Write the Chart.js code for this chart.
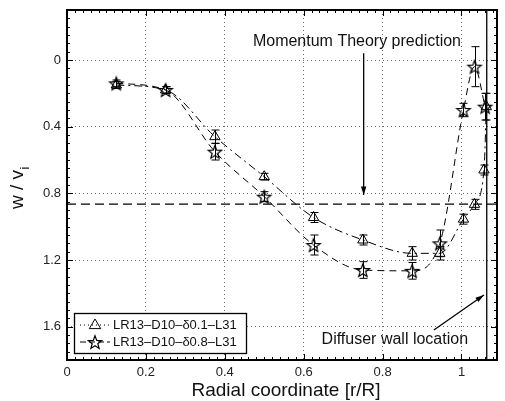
<!DOCTYPE html>
<html>
<head>
<meta charset="utf-8">
<script src="https://cdn.jsdelivr.net/npm/chart.js@4.4.0/dist/chart.umd.min.js"></script>
<style>
  html, body { margin: 0; padding: 0; background: #fff; }
  #wrap { width: 505px; height: 401px; }
</style>
</head>
<body>
<div id="wrap"><canvas id="chart"></canvas></div>
<script>
// series names
const seriesNames = ["LR13\u2013D10\u2013\u03b40.1\u2013L31", "LR13\u2013D10\u2013\u03b40.8\u2013L31"];

// triangle series (delta 0.1)
const triX   = [0.125, 0.25, 0.375, 0.5, 0.625, 0.75, 0.875, 0.945, 1.005, 1.033, 1.057, 1.063];
const triY   = [0.15, 0.18, 0.46, 0.70, 0.945, 1.08, 1.16, 1.16, 0.955, 0.866, 0.66, 0.28];
const triErr = [0.02, 0.02, 0.04, 0.02, 0.03, 0.03, 0.04, 0.04, 0.03, 0.03, 0.03, 0.08];

// star series (delta 0.8)
const starX   = [0.125, 0.25, 0.375, 0.5, 0.625, 0.75, 0.875, 0.945, 1.005, 1.033, 1.06];
const starY   = [0.14, 0.18, 0.55, 0.82, 1.11, 1.26, 1.265, 1.10, 0.30, 0.04, 0.28];
const starErr = [0.02, 0.02, 0.05, 0.03, 0.06, 0.05, 0.05, 0.08, 0.04, 0.12, 0.08];

// reference lines
const momentumValue = 0.865;
const wallX = 1.064;

// axes
const xMin = 0, xMax = 1.09;
const yMin = -0.3, yMax = 1.8;
const xTicks = [0, 0.2, 0.4, 0.6, 0.8, 1];
const xTickLabels = ["0", "0.2", "0.4", "0.6", "0.8", "1"];
const yTicks = [0, 0.4, 0.8, 1.2, 1.6];
const yTickLabels = ["0", "0.4", "0.8", "1.2", "1.6"];

const FONT = "'Liberation Sans', Arial, Helvetica, sans-serif";

function makeStar(r) {
  const c = document.createElement("canvas");
  const size = Math.ceil(r * 2 + 4);
  c.width = c.height = size;
  const g = c.getContext("2d");
  g.strokeStyle = "#000";
  g.lineWidth = 1.2;
  g.beginPath();
  for (let i = 0; i < 10; i++) {
    const a = -Math.PI / 2 + i * Math.PI / 5;
    const rr = i % 2 ? r * 0.42 : r;
    const px = size / 2 + rr * Math.cos(a), py = size / 2 + 0.8 + rr * Math.sin(a);
    if (i) g.lineTo(px, py); else g.moveTo(px, py);
  }
  g.closePath();
  g.stroke();
  return c;
}
const starImg = makeStar(7);

function drawTriangle(ctx, x, y, r) {
  ctx.beginPath();
  ctx.moveTo(x, y - r);
  ctx.lineTo(x + r * 0.95, y + r * 0.6);
  ctx.lineTo(x - r * 0.95, y + r * 0.6);
  ctx.closePath();
  ctx.stroke();
}

const toPts = (xs, ys) => xs.map((x, i) => ({ x: x, y: ys[i] }));

const decorPlugin = {
  id: "decor",
  afterDatasetsDraw(chart) {
    const ctx = chart.ctx, xs = chart.scales.x, ys = chart.scales.y;
    ctx.save();
    ctx.strokeStyle = "#000";
    ctx.lineWidth = 1;
    const bars = (X, Y, E) => {
      X.forEach((x, i) => {
        const px = Math.round(xs.getPixelForValue(x)) + 0.5;
        const p1 = ys.getPixelForValue(Y[i] - E[i]);
        const p2 = ys.getPixelForValue(Y[i] + E[i]);
        ctx.beginPath();
        ctx.moveTo(px, p1); ctx.lineTo(px, p2);
        ctx.moveTo(px - 4, p1); ctx.lineTo(px + 4, p1);
        ctx.moveTo(px - 4, p2); ctx.lineTo(px + 4, p2);
        ctx.stroke();
      });
    };
    bars(triX, triY, triErr);
    bars(starX, starY, starErr);
    ctx.restore();
  },
  afterDraw(chart) {
    const ctx = chart.ctx, a = chart.chartArea;
    const xs = chart.scales.x, ys = chart.scales.y;
    ctx.save();
    ctx.strokeStyle = "#000";
    ctx.lineWidth = 1;
    // minor ticks
    ctx.beginPath();
    for (let v = 0.02; v < xMax; v += 0.02) {
      const px = Math.round(xs.getPixelForValue(v)) + 0.5;
      ctx.moveTo(px, a.bottom); ctx.lineTo(px, a.bottom - 3);
      ctx.moveTo(px, a.top); ctx.lineTo(px, a.top + 3);
    }
    for (let v = -0.25; v < yMax; v += 0.05) {
      const py = Math.round(ys.getPixelForValue(v)) + 0.5;
      ctx.moveTo(a.left, py); ctx.lineTo(a.left + 3, py);
      ctx.moveTo(a.right, py); ctx.lineTo(a.right - 3, py);
    }
    ctx.stroke();
    // major ticks
    ctx.beginPath();
    xTicks.forEach(v => {
      const px = Math.round(xs.getPixelForValue(v)) + 0.5;
      ctx.moveTo(px, a.bottom); ctx.lineTo(px, a.bottom - 6);
      ctx.moveTo(px, a.top); ctx.lineTo(px, a.top + 6);
    });
    yTicks.forEach(v => {
      const py = Math.round(ys.getPixelForValue(v)) + 0.5;
      ctx.moveTo(a.left, py); ctx.lineTo(a.left + 6, py);
      ctx.moveTo(a.right, py); ctx.lineTo(a.right - 6, py);
    });
    ctx.stroke();
    // box
    ctx.lineWidth = 2;
    ctx.strokeRect(a.left, a.top, a.right - a.left, a.bottom - a.top);

    // tick labels
    ctx.fillStyle = "#222";
    ctx.font = "13px " + FONT;
    ctx.textAlign = "center";
    ctx.textBaseline = "middle";
    xTicks.forEach((v, i) => ctx.fillText(xTickLabels[i], xs.getPixelForValue(v), a.bottom + 12));
    ctx.textAlign = "right";
    yTicks.forEach((v, i) => ctx.fillText(yTickLabels[i], a.left - 6, ys.getPixelForValue(v)));

    // axis titles
    ctx.font = "19px " + FONT;
    ctx.textAlign = "center";
    ctx.fillStyle = "#111";
    ctx.fillText("Radial coordinate [r/R]", 286, 391);
    ctx.save();
    ctx.translate(18, 188);
    ctx.rotate(-Math.PI / 2);
    const main = "w / v";
    const wMain = ctx.measureText(main).width;
    ctx.font = "13px " + FONT;
    const wSub = ctx.measureText("i").width;
    const x0 = -(wMain + wSub) / 2;
    ctx.font = "19px " + FONT;
    ctx.textAlign = "left";
    ctx.fillText(main, x0, 0);
    ctx.font = "13px " + FONT;
    ctx.fillText("i", x0 + wMain + 0.5, 7);
    ctx.restore();

    // annotations
    ctx.font = "16px " + FONT;
    ctx.textAlign = "center";
    ctx.fillStyle = "#111";
    ctx.fillText("Momentum Theory prediction", xs.getPixelForValue(0.735), ys.getPixelForValue(-0.11));
    ctx.fillText("Diffuser wall location", xs.getPixelForValue(0.831), ys.getPixelForValue(1.68));
    const arrow = (x1, y1, x2, y2) => {
      const p1x = xs.getPixelForValue(x1), p1y = ys.getPixelForValue(y1);
      const p2x = xs.getPixelForValue(x2), p2y = ys.getPixelForValue(y2);
      const ang = Math.atan2(p2y - p1y, p2x - p1x);
      ctx.lineWidth = 1.3;
      ctx.beginPath();
      ctx.moveTo(p1x, p1y); ctx.lineTo(p2x, p2y);
      ctx.stroke();
      ctx.beginPath();
      ctx.moveTo(p2x, p2y);
      ctx.lineTo(p2x - 9 * Math.cos(ang - 0.3), p2y - 9 * Math.sin(ang - 0.3));
      ctx.lineTo(p2x - 9 * Math.cos(ang + 0.3), p2y - 9 * Math.sin(ang + 0.3));
      ctx.closePath();
      ctx.fillStyle = "#000";
      ctx.fill();
    };
    arrow(0.752, -0.04, 0.752, 0.81);
    arrow(0.93, 1.62, 1.057, 1.41);

    // legend
    const lx = 74, ly = 313, lw = 172, lh = 40;
    ctx.fillStyle = "#fff";
    ctx.fillRect(lx, ly, lw, lh);
    ctx.lineWidth = 1.3;
    ctx.strokeStyle = "#000";
    ctx.strokeRect(lx + 0.5, ly + 0.5, lw, lh);
    ctx.lineWidth = 1;
    ctx.font = "13px " + FONT;
    ctx.textAlign = "left";
    ctx.fillStyle = "#111";
    const rows = [ly + 12, ly + 29];
    // row 1: dash-dot + triangle
    ctx.setLineDash([1, 3]);
    ctx.beginPath(); ctx.moveTo(lx + 6, rows[0]); ctx.lineTo(lx + 36, rows[0]); ctx.stroke();
    ctx.setLineDash([]);
    drawTriangle(ctx, lx + 21, rows[0], 6);
    ctx.fillText(seriesNames[0], lx + 39, rows[0]);
    // row 2: dashed + star
    ctx.setLineDash([6, 3]);
    ctx.beginPath(); ctx.moveTo(lx + 6, rows[1]); ctx.lineTo(lx + 36, rows[1]); ctx.stroke();
    ctx.setLineDash([]);
    ctx.drawImage(starImg, Math.round(lx + 21 - starImg.width / 2), Math.round(rows[1] - starImg.height / 2));
    ctx.fillText(seriesNames[1], lx + 39, rows[1]);
    ctx.restore();
  }
};

new Chart(document.getElementById("chart"), {
  type: "scatter",
  data: {
    datasets: [
      {
        data: [{ x: xMin, y: momentumValue }, { x: xMax, y: momentumValue }],
        showLine: true, borderColor: "#000", borderWidth: 1.3,
        borderDash: [9, 5], pointRadius: 0
      },
      {
        data: [{ x: wallX, y: yMin }, { x: wallX, y: yMax }],
        showLine: true, borderColor: "#000", borderWidth: 1.3, pointRadius: 0
      },
      {
        label: seriesNames[0],
        data: toPts(triX, triY),
        showLine: true, borderColor: "#000", borderWidth: 1,
        borderDash: [8, 4, 2, 4],
        cubicInterpolationMode: "monotone",
        pointStyle: "triangle", pointRadius: 6,
        pointBackgroundColor: "rgba(0,0,0,0)", pointBorderColor: "#000", pointBorderWidth: 1
      },
      {
        label: seriesNames[1],
        data: toPts(starX, starY),
        showLine: true, borderColor: "#000", borderWidth: 1,
        borderDash: [7, 5],
        cubicInterpolationMode: "monotone",
        pointStyle: starImg, pointRadius: 7
      }
    ]
  },
  options: {
    responsive: true,
    maintainAspectRatio: false,
    animation: false,
    events: [],
    layout: { padding: { left: 67, right: 2, top: 10, bottom: 41 } },
    plugins: { legend: { display: false }, tooltip: { enabled: false } },
    scales: {
      x: {
        type: "linear", min: xMin, max: xMax,
        afterBuildTicks: s => { s.ticks = xTicks.map(v => ({ value: v })); },
        ticks: { display: false },
        border: { display: false, dash: [1, 3] },
        grid: { color: "#666", lineWidth: 1, drawTicks: false }
      },
      y: {
        type: "linear", reverse: true, min: yMin, max: yMax,
        afterBuildTicks: s => { s.ticks = yTicks.map(v => ({ value: v })); },
        ticks: { display: false },
        border: { display: false, dash: [1, 3] },
        grid: { color: "#666", lineWidth: 1, drawTicks: false }
      }
    }
  },
  plugins: [decorPlugin]
});
</script>
</body>
</html>
